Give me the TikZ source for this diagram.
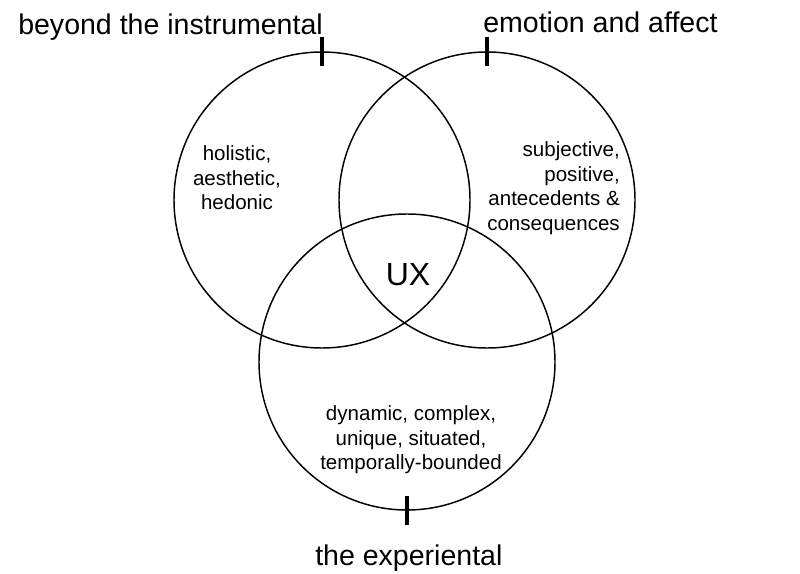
\documentclass[tikz,border=0pt]{standalone}
\usepackage{fontspec}
\setmainfont{Liberation Sans}

\begin{document}
\begin{tikzpicture}
	[x=0.75pt,y=-0.75pt,every node/.style={inner sep=0pt},
	ring/.style={circle, draw, line width=1.1pt, minimum size=222pt},
	tick/.style={line width=3.6pt},
	title/.style={font=\fontsize{21.4}{26}\selectfont, anchor=base west},
	inner/.style={font=\fontsize{15.4}{18.4}\selectfont}]
	\useasboundingbox (0,0) rectangle (800,574);
	\node[ring] (l) at (322,200) {};
	\node[ring] (r) at (487,200) {};
	\node[ring] (b) at (407,362) {};
	
	\node[title] (tl) at (18,35) {beyond the instrumental};
	\node[title] (tr) at (483,33) {emotion and affect};
	\node[title] (tb) at (315,565) {the experiental};
	
	\node[inner, align=center] (il) at (237,178) {holistic,\\aesthetic,\\hedonic};
	\node[inner, align=right, anchor=east] (ir) at (620,188) {subjective,\\positive,\\antecedents \&\\consequences};
	\node[inner, align=center] (ib) at (411,440) {dynamic, complex,\\unique, situated,\\temporally-bounded};
	\node[font=\fontsize{24}{28}\selectfont, anchor=base] (ux) at (408,285) {UX};
	
	\draw[tick] ([yshift=11pt]l.north) -- ([yshift=-11pt]l.north);
	\draw[tick] ([yshift=11pt]r.north) -- ([yshift=-11pt]r.north);
	\draw[tick] ([yshift=11pt]b.south) -- ([yshift=-11pt]b.south);
\end{tikzpicture}
\end{document}
